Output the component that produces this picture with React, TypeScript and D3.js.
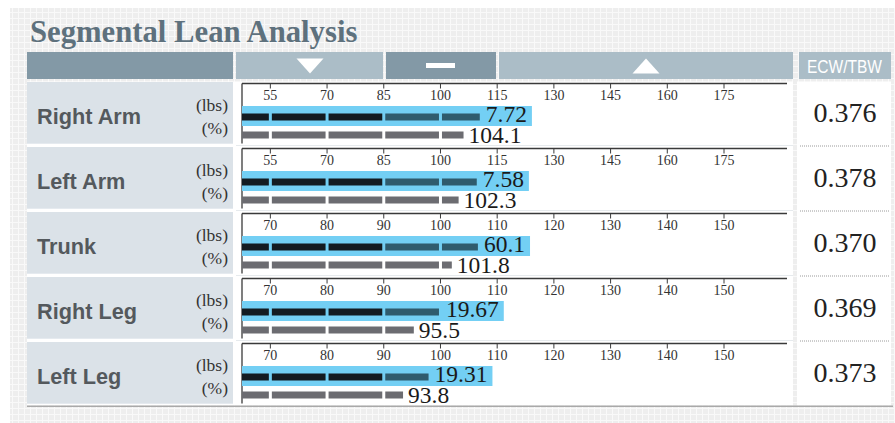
import React from 'react';
import * as d3 from 'd3';

// ---- data ----
const segments = ['Right Arm', 'Left Arm', 'Trunk', 'Right Leg', 'Left Leg'];
const lbsText = ['7.72', '7.58', '60.1', '19.67', '19.31'];
const pctText = ['104.1', '102.3', '101.8', '95.5', '93.8'];
// bar lengths (in % of standard, on each row's scale)
const lbsLevel = [110.4, 109.6, 106.6, 99.9, 97.9];
const pctLevel = [106.1, 104.8, 102.0, 95.3, 93.4];
const ecwTbw = ['0.376', '0.378', '0.370', '0.369', '0.373'];
const armTicks = [55, 70, 85, 100, 115, 130, 145, 160, 175];
const bodyTicks = [70, 80, 90, 100, 110, 120, 130, 140, 150];
const rowTicks = [armTicks, armTicks, bodyTicks, bodyTicks, bodyTicks];
const normalLow = [85, 85, 90, 90, 90];

const SERIF = '"Liberation Serif", "Times New Roman", serif';
const SANS = '"Liberation Sans", Arial, sans-serif';

const W = 895;
const H = 423;
const AX0 = 242;
const AX1 = 787;

function textW(s: string, fs: number) {
  let w = 0;
  for (const c of s) w += c === '.' ? 0.25 : 0.5;
  return w * fs;
}

export default function App() {
  const rowTop = (i: number) => 83.5 + i * 65;
  const valFs = 23.5;

  const scales = rowTicks.map((t) => {
    const step = t[1] - t[0];
    return d3.scaleLinear().domain([t[0] - step / 2, t[t.length - 1]]).range([AX0, 724]);
  });

  const barSegments = (ticks: number[], x: d3.ScaleLinear<number, number>, level: number) => {
    const step = ticks[1] - ticks[0];
    const bounds = [ticks[0] - step / 2, ...ticks, ticks[ticks.length - 1] + step * 2];
    const end = x(level);
    const out: { x0: number; x1: number; v0: number }[] = [];
    for (let i = 0; i < bounds.length - 1; i++) {
      const s = x(bounds[i]) + (i === 0 ? 0 : 1.5);
      const e = Math.min(x(bounds[i + 1]) - 1.5, end);
      if (e > s) out.push({ x0: s, x1: e, v0: bounds[i] });
    }
    return out;
  };

  return (
    <div style={{ position: 'absolute', left: 0, top: 0 }}>
      <svg width={W} height={H} style={{ display: 'block' }}>
        <defs>
          <pattern id="grid" width={6} height={6} patternUnits="userSpaceOnUse">
            <rect width={6} height={6} fill="#f9f9f9" />
            <rect x={1} y={1} width={5} height={5} fill="#eeeeee" />
          </pattern>
        </defs>
        <rect width={W} height={H} fill="#ffffff" />
        <rect x={10} y={8} width={W - 10} height={H - 8} fill="url(#grid)" />

        {/* title */}
        <text x={30} y={42} fontFamily={SERIF} fontWeight="bold" fontSize={30.7} fill="#5e717d">
          Segmental Lean Analysis
        </text>

        {/* header bar */}
        <rect x={27} y={52} width={206} height={27} fill="#8399a6" />
        <rect x={236} y={52} width={147} height={27} fill="#abbdc7" />
        <rect x={386} y={52} width={110} height={27} fill="#8399a6" />
        <rect x={499} y={52} width={294} height={27} fill="#abbdc7" />
        <rect x={799} y={52} width={92} height={27} fill="#abbdc7" />
        <path d={`M${296.5},58.5 L${323.5},58.5 L310,73.5 Z`} fill="#ffffff" />
        <rect x={426} y={63} width={29} height={5} fill="#ffffff" />
        <path d={`M${632.5},73.5 L${659.5},73.5 L646,58.5 Z`} fill="#ffffff" />
        <text x={807} y={73} fontFamily={SANS} fontSize={18} fill="#ffffff"
          textLength={75} lengthAdjust="spacingAndGlyphs">ECW/TBW</text>

        {/* table backgrounds */}
        <rect x={27} y={81.5} width={766} height={324} fill="#ffffff" />
        <rect x={797} y={81.5} width={94} height={324} fill="#ffffff" />
        <line x1={27} x2={893} y1={406.3} y2={406.3} stroke="#a9a9a9" strokeWidth={1.5} />

        {segments.map((name, i) => {
          const T = rowTop(i);
          const x = scales[i];
          const ticks = rowTicks[i];
          const lbsEnd = x(lbsLevel[i]);
          const pctEnd = x(pctLevel[i]);
          const lbsTx = lbsEnd + 6;
          const hlEnd = lbsTx + textW(lbsText[i], valFs) + 5;
          return (
            <g key={name}>
              <rect x={27} y={T - 1.5} width={206} height={61.7} fill="#dbe2e8" />
              {i > 0 && <line x1={236} x2={793} y1={T - 3} y2={T - 3} stroke="#e6eaed" strokeWidth={1} />}
              <text x={37} y={T + 40} fontFamily={SANS} fontWeight="bold" fontSize={21.7} fill="#54595d">{name}</text>
              <text x={228} y={T + 27} textAnchor="end" fontFamily={SERIF} fontSize={17.5} fill="#333">(lbs)</text>
              <text x={228} y={T + 50} textAnchor="end" fontFamily={SERIF} fontSize={17.5} fill="#333">(%)</text>

              {/* axis */}
              <line x1={AX0} x2={AX1} y1={T} y2={T} stroke="#3a3a3a" strokeWidth={1.3} />
              <line x1={AX0} x2={AX0} y1={T} y2={T + 60} stroke="#3a3a3a" strokeWidth={1.3} />
              {ticks.map((t) => (
                <g key={t}>
                  <line x1={x(t)} x2={x(t)} y1={T} y2={T + 5} stroke="#3a3a3a" strokeWidth={1} />
                  <text x={x(t)} y={T + 16.5} textAnchor="middle" fontFamily={SERIF} fontSize={14} fill="#333">{t}</text>
                </g>
              ))}

              {/* highlight and bars */}
              <rect x={AX0} y={T + 22.5} width={hlEnd - AX0} height={20} fill="#73cff4" />
              {barSegments(ticks, x, lbsLevel[i]).map((s, k) => (
                <rect key={k} x={s.x0} y={T + 30} width={s.x1 - s.x0} height={7}
                  fill={s.v0 < normalLow[i] ? '#131b21' : '#2f5b6d'} />
              ))}
              {barSegments(ticks, x, pctLevel[i]).map((s, k) => (
                <rect key={k} x={s.x0} y={T + 48} width={s.x1 - s.x0} height={7} fill="#6c6c71" />
              ))}
              <text x={lbsTx} y={T + 38.5} fontFamily={SERIF} fontSize={valFs} fill="#1a1a1a">{lbsText[i]}</text>
              <text x={pctEnd + 5} y={T + 59} fontFamily={SERIF} fontSize={valFs} fill="#1a1a1a">{pctText[i]}</text>

              {/* ECW/TBW */}
              {i > 0 && (
                <line x1={800} x2={890} y1={T - 2.5} y2={T - 2.5} stroke="#9a9a9a" strokeWidth={1} strokeDasharray="1,1" />
              )}
              <text x={845} y={T + 38} textAnchor="middle" fontFamily={SERIF} fontSize={28} fill="#222">{ecwTbw[i]}</text>
            </g>
          );
        })}
      </svg>
    </div>
  );
}
